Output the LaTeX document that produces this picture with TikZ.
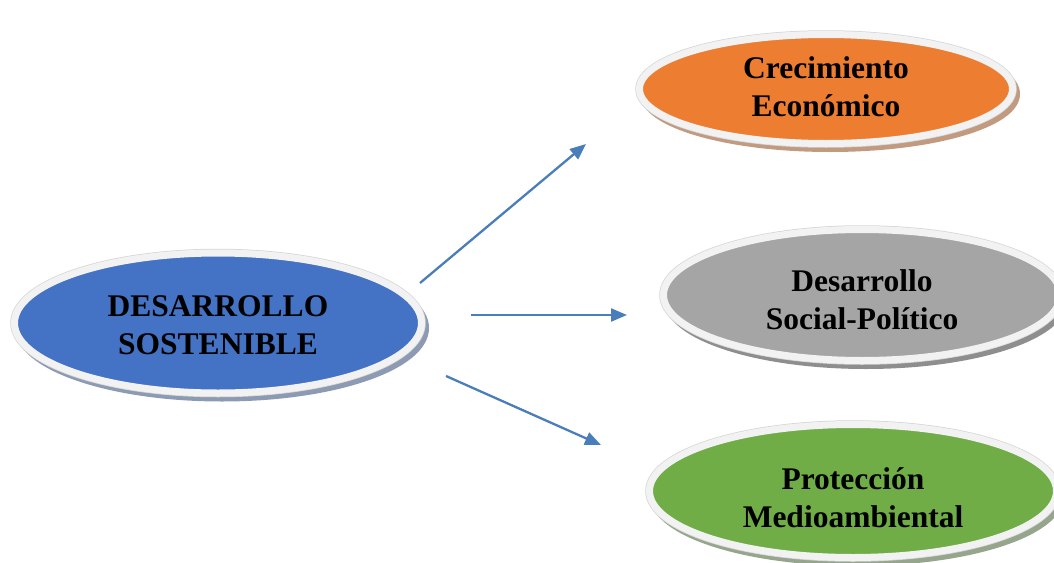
\documentclass[tikz,border=0pt]{standalone}
\usepackage{fontspec}
\setmainfont{Liberation Serif}
\usetikzlibrary{arrows.meta,shapes.geometric,shadows}
\definecolor{cblue}{HTML}{4472C4}
\definecolor{corange}{HTML}{ED7D31}
\definecolor{cgray}{HTML}{A5A5A5}
\definecolor{cgreen}{HTML}{70AD47}
\definecolor{sblue}{HTML}{8C9AB3}
\definecolor{sorange}{HTML}{C29A80}
\definecolor{sgray}{HTML}{8E8E8E}
\definecolor{sgreen}{HTML}{96A68C}
\definecolor{ring}{HTML}{F2F2F2}
\definecolor{ringedge}{HTML}{D6D6D6}
\definecolor{arrowc}{HTML}{4A7EBB}
\tikzset{
  bubble/.style n args={4}{
    ellipse, minimum width=#1, minimum height=#2, inner sep=0pt,
    general shadow={shadow xshift=4pt, shadow yshift=-5pt, fill=#4, draw=#4, line width=7pt},
    preaction={draw=ringedge, line width=8.5pt},
    fill=#3, draw=ring, line width=7pt,
    align=center, text=black,
    font=\bfseries\fontsize{31.5pt}{38pt}\selectfont
  },
  link/.style={draw=arrowc, line width=2.3pt, -{Triangle[length=16pt,width=13pt]}}
}
\begin{document}
\begin{tikzpicture}[x=1pt,y=-1pt]
\useasboundingbox (0,0) rectangle (1054,562);
\clip (0,0) rectangle (1054,562);
\node[bubble={407}{140}{cblue}{sblue}, text height=63pt] (ds) at (218,323) {DESARROLLO\\SOSTENIBLE};
\node[bubble={373}{109}{corange}{sorange}, text depth=4pt] (ce) at (826,89) {Crecimiento\\Económico};
\node[bubble={397}{131}{cgray}{sgray}, text height=69.5pt] (sp) at (862,295) {Desarrollo\\Social-Político};
\node[bubble={407}{133}{cgreen}{sgreen}, text height=73pt] (pm) at (853,491) {Protección\\Medioambiental};
\coordinate (a1s) at (420,283);
\coordinate (a1e) at (586,144);
\coordinate (a2s) at (471,315);
\coordinate (a2e) at (627,315);
\coordinate (a3s) at (446,376);
\coordinate (a3e) at (601,445);
\draw[link] (a1s) -- (a1e);
\draw[link] (a2s) -- (a2e);
\draw[link] (a3s) -- (a3e);
\end{tikzpicture}
\end{document}
